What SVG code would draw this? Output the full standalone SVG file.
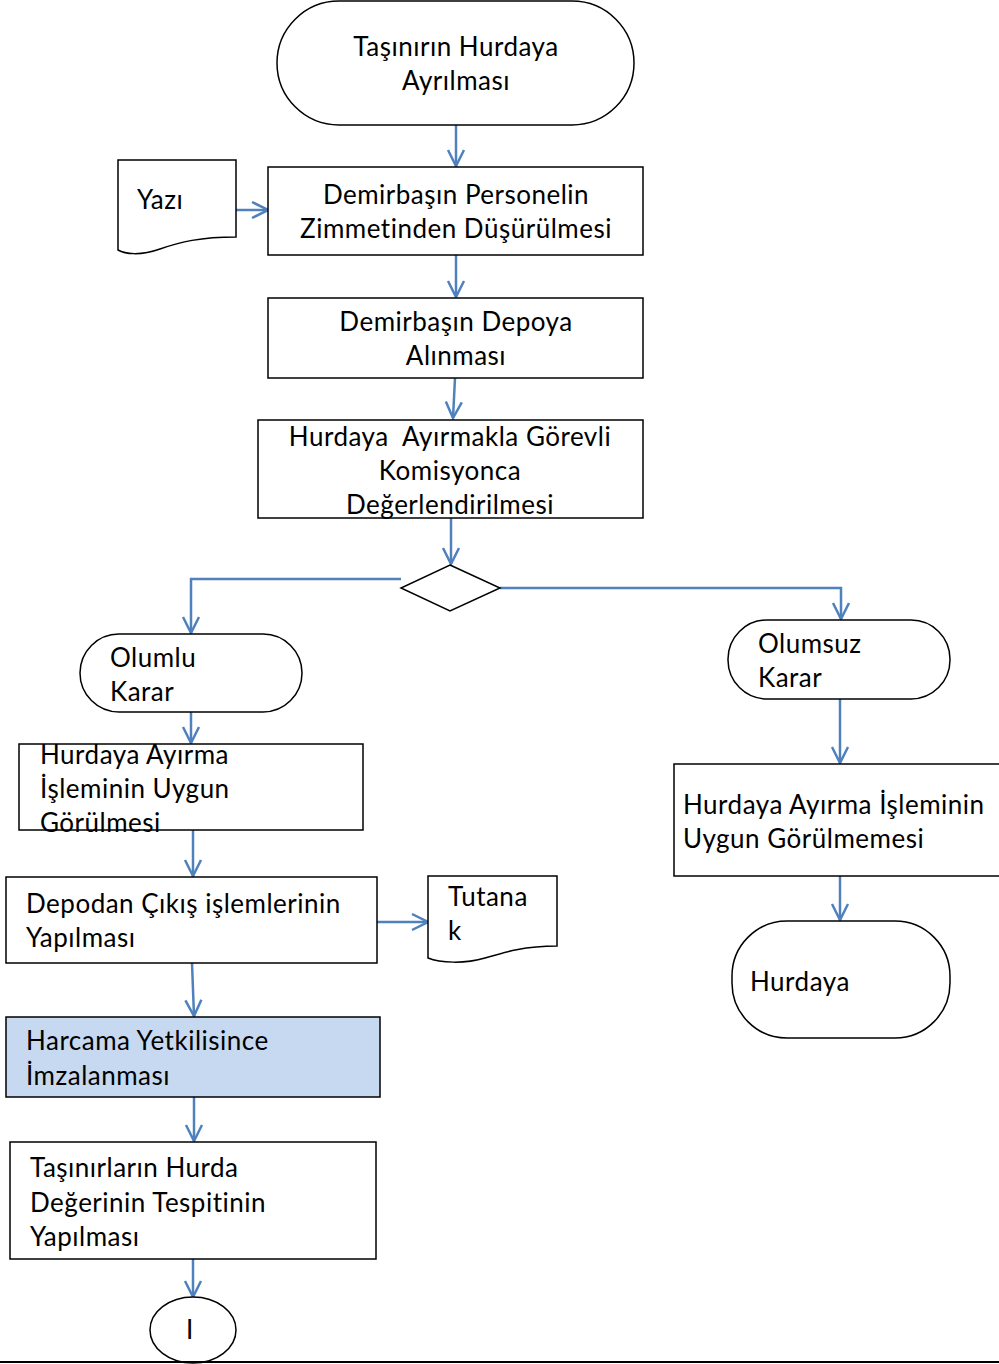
<svg xmlns="http://www.w3.org/2000/svg" width="999" height="1364" viewBox="0 0 999 1364">
<style>
.s{fill:#fff;stroke:#000;stroke-width:1.5}
.b{fill:#c6d9f1;stroke:#000;stroke-width:1.5}
.t{font-family:Lato,"Open Sans",sans-serif;font-size:26px;letter-spacing:0.5px;fill:#000;white-space:pre}
.m{text-anchor:middle}
.c{fill:none;stroke:#4f81bd;stroke-width:2.5}
</style>
<defs>
<marker id="a" viewBox="0 0 20 20" refX="18" refY="10" markerWidth="20" markerHeight="20" markerUnits="userSpaceOnUse" orient="auto">
<path d="M2,2 L18,10 L2,18" fill="none" stroke="#4f81bd" stroke-width="2.5"/>
</marker>
</defs>
<rect width="999" height="1364" fill="#fff"/>
<g id="connectors">
<path class="c" d="M456,125 V166" marker-end="url(#a)"/>
<path class="c" d="M236,210 H268" marker-end="url(#a)"/>
<path class="c" d="M456,255 V297" marker-end="url(#a)"/>
<path class="c" d="M455,378 L453,418" marker-end="url(#a)"/>
<path class="c" d="M451,518 V564" marker-end="url(#a)"/>
<path class="c" d="M401,579 H191 V633" marker-end="url(#a)"/>
<path class="c" d="M500,588 H841 V619" marker-end="url(#a)"/>
<path class="c" d="M191,712 V743" marker-end="url(#a)"/>
<path class="c" d="M193,830 V876" marker-end="url(#a)"/>
<path class="c" d="M377,922 H428" marker-end="url(#a)"/>
<path class="c" d="M192,963 L194,1016" marker-end="url(#a)"/>
<path class="c" d="M194,1097 V1141" marker-end="url(#a)"/>
<path class="c" d="M193,1259 V1297" marker-end="url(#a)"/>
<path class="c" d="M840,699 V763" marker-end="url(#a)"/>
<path class="c" d="M840,876 V920" marker-end="url(#a)"/>
</g>
<g id="start">
<rect class="s" x="277" y="1" width="357" height="124" rx="62"/>
<text class="t m" x="456" y="56">Taşınırın Hurdaya</text>
<text class="t m" x="456" y="90">Ayrılması</text>
</g>
<g id="yazi">
<path class="s" d="M118,160 H236 V237 C200,237 180,242 160,249 C140,256 125,254 118,250 Z"/>
<text class="t" x="137" y="209">Yazı</text>
</g>
<g id="box1">
<rect class="s" x="268" y="167" width="375" height="88"/>
<text class="t m" x="456" y="204">Demirbaşın Personelin</text>
<text class="t m" x="456" y="238">Zimmetinden Düşürülmesi</text>
</g>
<g id="box2">
<rect class="s" x="268" y="298" width="375" height="80"/>
<text class="t m" x="456" y="331">Demirbaşın Depoya</text>
<text class="t m" x="456" y="365">Alınması</text>
</g>
<g id="box3">
<rect class="s" x="258" y="420" width="385" height="98"/>
<text class="t m" x="450" y="446">Hurdaya  Ayırmakla Görevli</text>
<text class="t m" x="450" y="480">Komisyonca</text>
<text class="t m" x="450" y="514">Değerlendirilmesi</text>
</g>
<g id="decision">
<path class="s" d="M450,565 L500,588 L450,611 L401,588 Z"/>
</g>
<g id="olumlu">
<rect class="s" x="80" y="634" width="222" height="78" rx="39"/>
<text class="t" x="110" y="667">Olumlu</text>
<text class="t" x="110" y="701">Karar</text>
</g>
<g id="olumsuz">
<rect class="s" x="728" y="620" width="222" height="79" rx="39"/>
<text class="t" x="758" y="653">Olumsuz</text>
<text class="t" x="758" y="687">Karar</text>
</g>
<g id="uygun">
<rect class="s" x="19" y="744" width="344" height="86"/>
<text class="t" x="40" y="764">Hurdaya Ayırma</text>
<text class="t" x="40" y="798">İşleminin Uygun</text>
<text class="t" x="40" y="832">Görülmesi</text>
</g>
<g id="depodan">
<rect class="s" x="6" y="877" width="371" height="86"/>
<text class="t" x="26" y="913">Depodan Çıkış işlemlerinin</text>
<text class="t" x="26" y="947">Yapılması</text>
</g>
<g id="tutanak">
<path class="s" d="M428,876 H557 V946 C525,946 505,952 485,958 C465,964 440,963 428,958 Z"/>
<text class="t" x="448" y="906">Tutana</text>
<text class="t" x="448" y="940">k</text>
</g>
<g id="harcama">
<rect class="b" x="6" y="1017" width="374" height="80"/>
<text class="t" x="26" y="1050">Harcama Yetkilisince</text>
<text class="t" x="26" y="1085">İmzalanması</text>
</g>
<g id="tespit">
<rect class="s" x="10" y="1142" width="366" height="117"/>
<text class="t" x="30" y="1177">Taşınırların Hurda</text>
<text class="t" x="30" y="1212">Değerinin Tespitinin</text>
<text class="t" x="30" y="1246">Yapılması</text>
</g>
<g id="connector-circle">
<ellipse class="s" cx="193" cy="1330" rx="43" ry="33"/>
<text class="t m" x="190" y="1339">I</text>
</g>
<g id="uygunsuz">
<rect class="s" x="674" y="764" width="340" height="112"/>
<text class="t" x="683" y="814">Hurdaya Ayırma İşleminin</text>
<text class="t" x="683" y="848">Uygun Görülmemesi</text>
</g>
<g id="hurdaya">
<rect class="s" x="732" y="921" width="218" height="117" rx="55"/>
<text class="t" x="750" y="991">Hurdaya</text>
</g>
<line x1="0" y1="1362" x2="999" y2="1362" stroke="#000" stroke-width="2"/>
</svg>
